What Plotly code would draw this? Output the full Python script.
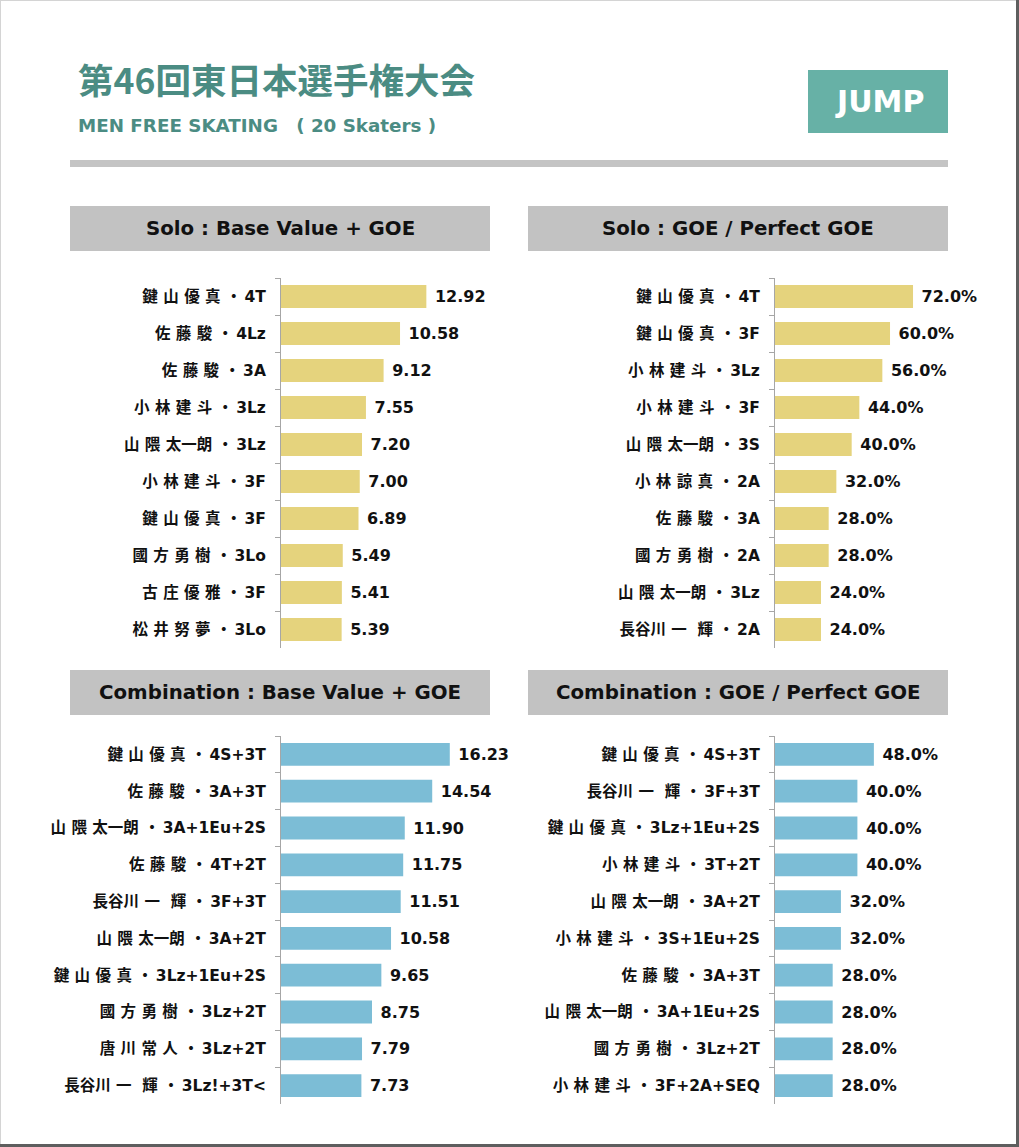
import plotly.graph_objects as go

W, H = 1019, 1147

title_text = "第46回東日本選手権大会"
subtitle_text = "MEN FREE SKATING\u3000( 20 Skaters )"
badge_text = "JUMP"

panel_titles = [
    "Solo : Base Value + GOE",
    "Solo : GOE / Perfect GOE",
    "Combination : Base Value + GOE",
    "Combination : GOE / Perfect GOE",
]

D = " ・\u2009"  # name / element separator

solo_bv_names = ["鍵 山 優 真", "佐 藤 駿", "佐 藤 駿", "小 林 建 斗", "山 隈 太一朗",
                 "小 林 建 斗", "鍵 山 優 真", "國 方 勇 樹", "古 庄 優 雅", "松 井 努 夢"]
solo_bv_elements = ["4T", "4Lz", "3A", "3Lz", "3Lz", "3F", "3F", "3Lo", "3F", "3Lo"]
solo_bv_values = [12.92, 10.58, 9.12, 7.55, 7.20, 7.00, 6.89, 5.49, 5.41, 5.39]

solo_goe_names = ["鍵 山 優 真", "鍵 山 優 真", "小 林 建 斗", "小 林 建 斗", "山 隈 太一朗",
                  "小 林 諒 真", "佐 藤 駿", "國 方 勇 樹", "山 隈 太一朗", "長谷川 一\u00a0\u00a0輝"]
solo_goe_elements = ["4T", "3F", "3Lz", "3F", "3S", "2A", "3A", "2A", "3Lz", "2A"]
solo_goe_values = [72.0, 60.0, 56.0, 44.0, 40.0, 32.0, 28.0, 28.0, 24.0, 24.0]

combo_bv_names = ["鍵 山 優 真", "佐 藤 駿", "山 隈 太一朗", "佐 藤 駿", "長谷川 一\u00a0\u00a0輝",
                  "山 隈 太一朗", "鍵 山 優 真", "國 方 勇 樹", "唐 川 常 人", "長谷川 一\u00a0\u00a0輝"]
combo_bv_elements = ["4S+3T", "3A+3T", "3A+1Eu+2S", "4T+2T", "3F+3T", "3A+2T",
                     "3Lz+1Eu+2S", "3Lz+2T", "3Lz+2T", "3Lz!+3T&lt;"]
combo_bv_values = [16.23, 14.54, 11.90, 11.75, 11.51, 10.58, 9.65, 8.75, 7.79, 7.73]

combo_goe_names = ["鍵 山 優 真", "長谷川 一\u00a0\u00a0輝", "鍵 山 優 真", "小 林 建 斗", "山 隈 太一朗",
                   "小 林 建 斗", "佐 藤 駿", "山 隈 太一朗", "國 方 勇 樹", "小 林 建 斗"]
combo_goe_elements = ["4S+3T", "3F+3T", "3Lz+1Eu+2S", "3T+2T", "3A+2T", "3S+1Eu+2S",
                      "3A+3T", "3A+1Eu+2S", "3Lz+2T", "3F+2A+SEQ"]
combo_goe_values = [48.0, 40.0, 40.0, 40.0, 32.0, 32.0, 28.0, 28.0, 28.0, 28.0]

YELLOW = "#e5d37d"
BLUE = "#7cbdd6"
TEAL_DARK = "#4b8c83"
TEAL = "#67b1a6"
HEAD_GRAY = "#c2c2c2"
AXIS_GRAY = "#a6a6a6"
LATIN = "DejaVu Sans, Noto Sans CJK JP, sans-serif"
CJK = "Noto Sans CJK JP, DejaVu Sans, sans-serif"


def px(x):
    return x / W


def py(y):
    return 1 - y / H


def labels(names, elements):
    return [n + D + e for n, e in zip(names, elements)]


fig = go.Figure()

charts = [
    # labels, values, color, fmt, x0, x1, y0, y1, xmax
    (labels(solo_bv_names, solo_bv_elements), solo_bv_values, YELLOW, "%{x:.2f}",
     281, 490, 278, 648, 209 / 11.25),
    (labels(solo_goe_names, solo_goe_elements), solo_goe_values, YELLOW, "%{x:.1f}%",
     775, 948, 278, 648, 173 / 1.917),
    (labels(combo_bv_names, combo_bv_elements), combo_bv_values, BLUE, "%{x:.2f}",
     281, 490, 736, 1104, 209 / 10.4),
    (labels(combo_goe_names, combo_goe_elements), combo_goe_values, BLUE, "%{x:.1f}%",
     775, 948, 736, 1104, 173 / 2.06),
]

layout_axes = {}
for i, (labs, values, color, fmt, x0, x1, y0, y1, xmax) in enumerate(charts, start=1):
    sfx = "" if i == 1 else str(i)
    fig.add_trace(go.Bar(
        x=values, y=labs, orientation="h",
        marker=dict(color=color, line=dict(width=0)),
        texttemplate="\u00a0" + fmt, textposition="outside",
        textfont=dict(family=LATIN, size=16, color="#111111", weight="bold"),
        constraintext="none", cliponaxis=False,
        xaxis="x" + sfx, yaxis="y" + sfx, width=0.62, hoverinfo="skip",
    ))
    layout_axes["xaxis" + sfx] = dict(
        domain=[px(x0), px(x1)], range=[0, xmax], anchor="y" + sfx,
        visible=False, fixedrange=True,
    )
    layout_axes["yaxis" + sfx] = dict(
        domain=[py(y1), py(y0)], anchor="x" + sfx, autorange="reversed",
        type="category", showline=True, linecolor=AXIS_GRAY, linewidth=1,
        ticks="outside", tickson="boundaries", ticklen=5, tickcolor=AXIS_GRAY,
        tickwidth=1, showgrid=False, zeroline=False, ticklabelstandoff=11,
        tickfont=dict(family=LATIN, size=15.5, color="#111111", weight="bold"),
        fixedrange=True,
    )

shapes = []
annotations = []

# title / subtitle
annotations.append(dict(text=title_text, x=px(76), y=py(78), xref="paper", yref="paper",
                        xanchor="left", yanchor="middle", showarrow=False,
                        font=dict(family=CJK, size=35.5, color=TEAL_DARK, weight="bold")))
annotations.append(dict(text=subtitle_text, x=px(76), y=py(126), xref="paper", yref="paper",
                        xanchor="left", yanchor="middle", showarrow=False,
                        font=dict(family=LATIN, size=18.3, color=TEAL_DARK, weight="bold")))

# JUMP badge
shapes.append(dict(type="rect", xref="paper", yref="paper", x0=px(808), x1=px(948),
                   y0=py(133), y1=py(70), fillcolor=TEAL, line=dict(width=0)))
annotations.append(dict(text=badge_text, x=px(879), y=py(102), xref="paper", yref="paper",
                        xanchor="center", yanchor="middle", showarrow=False,
                        font=dict(family=LATIN, size=30, color="white", weight="bold")))

# separator line
shapes.append(dict(type="rect", xref="paper", yref="paper", x0=px(70), x1=px(948),
                   y0=py(167), y1=py(160), fillcolor="#c4c4c4", line=dict(width=0)))

# panel headers
header_boxes = [(70, 490, 206, 251), (528, 948, 206, 251), (70, 490, 670, 715), (528, 948, 670, 715)]
for (hx0, hx1, hy0, hy1), ttl in zip(header_boxes, panel_titles):
    shapes.append(dict(type="rect", xref="paper", yref="paper", x0=px(hx0), x1=px(hx1),
                       y0=py(hy1), y1=py(hy0), fillcolor=HEAD_GRAY, line=dict(width=0)))
    annotations.append(dict(text=ttl, x=px((hx0 + hx1) / 2), y=py((hy0 + hy1) / 2),
                            xref="paper", yref="paper", xanchor="center", yanchor="middle",
                            showarrow=False,
                            font=dict(family=LATIN, size=19.8, color="#111111", weight="bold")))

# frame: light top/left, dark bottom/right
shapes.append(dict(type="rect", xref="paper", yref="paper", x0=0, x1=px(1), y0=0, y1=1,
                   fillcolor="#d4d4d4", line=dict(width=0)))
shapes.append(dict(type="rect", xref="paper", yref="paper", x0=0, x1=1, y0=py(1), y1=1,
                   fillcolor="#d4d4d4", line=dict(width=0)))
shapes.append(dict(type="rect", xref="paper", yref="paper", x0=px(1016), x1=1, y0=0, y1=1,
                   fillcolor="#5e5e5e", line=dict(width=0)))
shapes.append(dict(type="rect", xref="paper", yref="paper", x0=0, x1=1, y0=0, y1=py(1144),
                   fillcolor="#5e5e5e", line=dict(width=0)))

fig.update_layout(
    width=W, height=H, margin=dict(l=0, r=0, t=0, b=0),
    paper_bgcolor="white", plot_bgcolor="rgba(0,0,0,0)",
    showlegend=False, shapes=shapes, annotations=annotations,
    **layout_axes,
)

fig.write_html(
    "out.html",
    config=dict(displayModeBar=False),
    post_script="document.body.style.margin='0';document.body.style.padding='0';"
                "document.body.style.overflow='hidden';",
)
